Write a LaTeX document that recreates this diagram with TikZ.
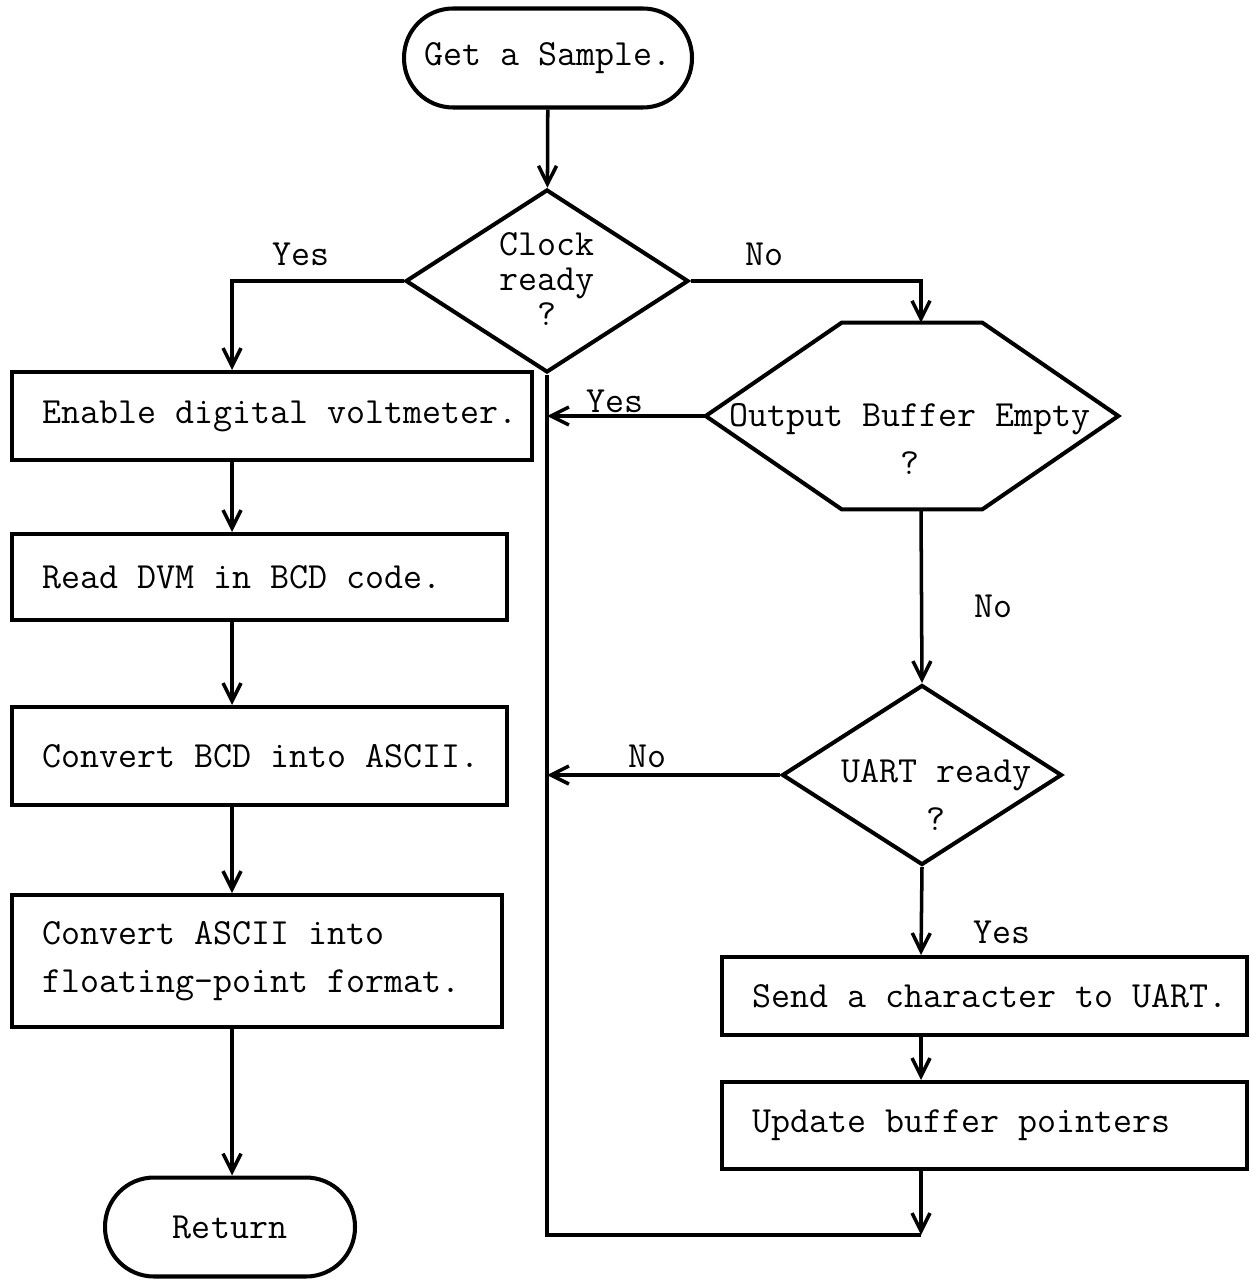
\documentclass[tikz,border=0pt]{standalone}
\usepackage{tikz}
\usetikzlibrary{arrows.meta, positioning, shapes.geometric}
\newcommand{\flowfont}{\ttfamily\fontsize{21}{27.5}\selectfont}

\begin{document}
\begin{tikzpicture}[x=0.02cm, y=-0.02cm,
    >={Straight Barb[length=3.6mm, width=3.6mm]},
    every node/.style={font=\flowfont},
    outline/.style={line width=2.3pt},
    term/.style={draw, outline, rounded corners=9.8mm, minimum height=1.98cm},
    proc/.style={draw, outline, anchor=north west, inner xsep=0.6cm, inner ysep=0pt, text width=#1, align=justify},
    dec/.style={draw, diamond, outline, inner sep=0pt},
    fl/.style={->, line width=2pt}]
  \useasboundingbox (0,0) rectangle (1250,1287);
  \coordinate (lcol) at (232,0);
  \coordinate (rcol) at (921,0);
  \coordinate (join) at (921,1235);

  \node[term, minimum width=5.76cm] (start) at (548,58) {Get a Sample.};
  \node[dec, minimum width=5.66cm, minimum height=3.66cm] (clock) at (547,281) {};
  \node[align=center] (clocktxt) at (547,279) {Clock\\[-7.5pt]ready\\[-7.5pt]?};

  \node[proc=9.2cm, minimum height=1.76cm] (enable) at (10,370) {\mbox{Enable digital voltmeter.}};
  \node[proc=8.7cm, minimum height=1.72cm] (read) at (10,532) {Read DVM in BCD code.};
  \node[proc=8.7cm, minimum height=1.96cm] (bcd) at (10,705) {\mbox{Convert BCD into ASCII.}};
  \node[proc=8.6cm, minimum height=2.64cm] (ascii) at (10,893) {Convert ASCII into\\floating-point format.};
  \node[term, minimum width=5cm] (ret) at (230,1227) {Return};

  \node[minimum width=8.24cm, minimum height=3.72cm, inner sep=0pt] (obe) at (912,416) {};
  \draw[outline] (obe.west) -- ([xshift=2.72cm]obe.north west) -- ([xshift=-2.72cm]obe.north east)
    -- (obe.east) -- ([xshift=-2.72cm]obe.south east) -- ([xshift=2.72cm]obe.south west) -- cycle;
  \node[align=center] (obetxt) at (910,439) {Output Buffer Empty\\?};
  \node[dec, minimum width=5.6cm, minimum height=3.6cm] (uart) at (922,775) {};
  \node[align=center] (uarttxt) at (936,795) {UART ready\\?};
  \node[proc=9.3cm, minimum height=1.56cm] (send) at (720,955) {\mbox{Send a character to UART.}};
  \node[proc=9.3cm, minimum height=1.74cm] (update) at (720,1080) {Update buffer pointers};

  \draw[fl] (start) -- (clock);
  \draw[fl] (clock.west) -| (enable.north -| lcol) node[pos=0.3, above=0.16cm] {Yes};
  \draw[fl] (clock.east) -| (obe.north -| rcol) node[pos=0.16, above=0.16cm] {No};
  \draw[fl] (enable.south -| lcol) -- (read.north -| lcol);
  \draw[fl] (read.south -| lcol) -- (bcd.north -| lcol);
  \draw[fl] (bcd.south -| lcol) -- (ascii.north -| lcol);
  \draw[fl] (ascii.south -| lcol) -- (ret.north -| lcol);

  \draw[line width=2pt] (clock.south) |- (join);
  \draw[fl] (obe.west) -- (obe.west -| clock.south) node[pos=0.57, above, inner sep=1pt] {Yes};
  \draw[fl] (uart.west) -- (uart.west -| clock.south) node[pos=0.57, above] {No};
  \draw[fl] (obe.south -| rcol) -- (uart.north) node[pos=0.56, right=0.9cm] {No};
  \draw[fl] (uart.south) -- (send.north -| rcol) node[pos=0.74, right=0.9cm] {Yes};
  \draw[fl] (send.south -| rcol) -- (update.north -| rcol);
  \draw[fl] (update.south -| rcol) -- (join);
\end{tikzpicture}
\end{document}
